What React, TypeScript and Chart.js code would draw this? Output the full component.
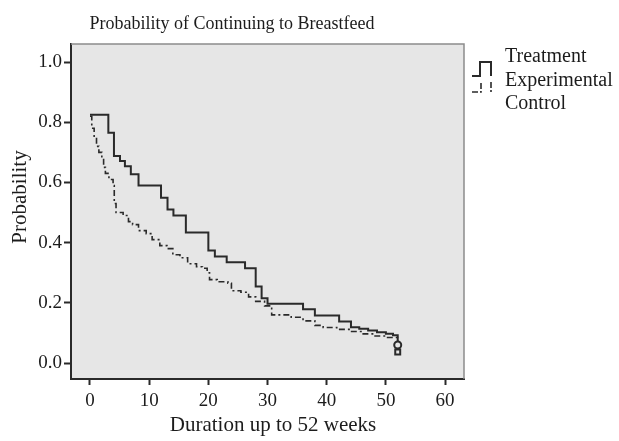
import React, { useEffect, useRef } from "react";
import { Chart, registerables } from "chart.js";

Chart.register(...registerables);

// ---- Data ----
const chartTitle = "Probability of Continuing to Breastfeed";
const xTitle = "Duration up to 52 weeks";
const yTitle = "Probability";
const legendTitle = "Treatment";
const seriesNames = ["Experimental", "Control"];

const xTicks = [0, 10, 20, 30, 40, 50, 60];
const yTicks = [0, 0.2, 0.4, 0.6, 0.8, 1.0];

// Kaplan–Meier steps: survival value after each event time
const expTimes = [0, 3.1, 4.05, 5.07, 5.9, 6.9, 8.2, 12.0, 13.1, 14.1, 16.2, 20.0, 21.1, 23.1, 26.2, 28.0, 29.0, 30.0, 36.0, 38.0, 42.1, 44.1, 45.5, 47.0, 48.5, 50.0, 51.2, 52.0];
const expSurv = [0.825, 0.765, 0.688, 0.671, 0.654, 0.627, 0.59, 0.549, 0.51, 0.49, 0.434, 0.374, 0.354, 0.335, 0.315, 0.254, 0.215, 0.197, 0.179, 0.158, 0.138, 0.119, 0.114, 0.108, 0.102, 0.097, 0.092, 0.06];

const ctrlTimes = [0, 0.3, 0.7, 1.1, 1.5, 2.0, 2.3, 2.6, 3.2, 3.9, 4.1, 4.4, 5.6, 6.5, 7.2, 8.2, 9.5, 10.5, 11.8, 13.0, 14.0, 15.2, 16.5, 18.0, 19.0, 19.8, 20.2, 21.5, 23.3, 23.9, 25.5, 26.8, 28.0, 29.5, 30.7, 34.0, 36.0, 38.0, 39.4, 41.7, 44.0, 46.0, 48.0, 50.0, 52.0];
const ctrlSurv = [0.82, 0.78, 0.75, 0.72, 0.70, 0.68, 0.65, 0.63, 0.61, 0.59, 0.53, 0.50, 0.49, 0.47, 0.46, 0.44, 0.43, 0.41, 0.39, 0.38, 0.36, 0.35, 0.33, 0.32, 0.315, 0.30, 0.277, 0.27, 0.265, 0.24, 0.235, 0.22, 0.205, 0.19, 0.16, 0.152, 0.14, 0.125, 0.118, 0.112, 0.105, 0.097, 0.09, 0.085, 0.037];

const FONT = "'Liberation Serif', 'DejaVu Serif', serif";
const INK = "#1c1c1c";
const LINE = "#2a2a2a";

const decorPlugin = {
  id: "decor",
  beforeDraw(chart: any) {
    const { ctx, chartArea: a } = chart;
    ctx.save();
    ctx.fillStyle = "#e6e6e6";
    ctx.fillRect(a.left, a.top, a.right - a.left, a.bottom - a.top);
    ctx.restore();
  },
  afterDraw(chart: any) {
    const { ctx, chartArea: a } = chart;
    ctx.save();
    // top & right frame
    ctx.strokeStyle = "#8c8c8c";
    ctx.lineWidth = 1.5;
    ctx.beginPath();
    ctx.moveTo(a.left, a.top);
    ctx.lineTo(a.right, a.top);
    ctx.lineTo(a.right, a.bottom);
    ctx.stroke();

    // title
    ctx.fillStyle = INK;
    ctx.font = `18px ${FONT}`;
    ctx.textAlign = "center";
    ctx.textBaseline = "alphabetic";
    ctx.fillText(chartTitle, 232, 29);

    // axis titles
    ctx.font = `21px ${FONT}`;
    ctx.fillText(xTitle, 273, 431);
    ctx.save();
    ctx.translate(26, 197);
    ctx.rotate(-Math.PI / 2);
    ctx.fillText(yTitle, 0, 0);
    ctx.restore();

    // legend
    ctx.textAlign = "left";
    ctx.font = `20px ${FONT}`;
    ctx.fillText(legendTitle, 505, 62);
    ctx.fillText(seriesNames[0], 505, 86);
    ctx.fillText(seriesNames[1], 505, 109);

    ctx.strokeStyle = LINE;
    ctx.lineWidth = 2;
    ctx.setLineDash([]);
    ctx.beginPath();
    ctx.moveTo(472, 76);
    ctx.lineTo(480, 76);
    ctx.lineTo(480, 62);
    ctx.lineTo(491, 62);
    ctx.lineTo(491, 76);
    ctx.stroke();

    ctx.lineWidth = 1.6;
    ctx.setLineDash([6, 2, 2, 2]);
    ctx.beginPath();
    ctx.moveTo(472, 92);
    ctx.lineTo(481, 92);
    ctx.lineTo(481, 82);
    ctx.stroke();
    ctx.beginPath();
    ctx.moveTo(491, 82);
    ctx.lineTo(491, 93);
    ctx.stroke();
    ctx.restore();
  },
};

export default function App() {
  const ref = useRef<HTMLCanvasElement>(null);

  useEffect(() => {
    if (!ref.current) return;
    const expData = expTimes.map((t, i) => ({ x: t, y: expSurv[i] }));
    const ctrlData = ctrlTimes.map((t, i) => ({ x: t, y: ctrlSurv[i] }));
    const lastExp = expData.length - 1;
    const lastCtrl = ctrlData.length - 1;

    const chart = new Chart(ref.current, {
      type: "line",
      data: {
        datasets: [
          {
            label: seriesNames[0],
            data: expData,
            stepped: true,
            borderColor: LINE,
            borderWidth: 2,
            pointRadius: (c: any) => (c.dataIndex === lastExp ? 3.5 : 0),
            pointStyle: "circle",
            pointBorderColor: LINE,
            pointBackgroundColor: "#e6e6e6",
            pointBorderWidth: 2,
            fill: false,
          },
          {
            label: seriesNames[1],
            data: ctrlData,
            stepped: true,
            borderColor: LINE,
            borderWidth: 1.6,
            borderDash: [6, 3, 2, 3],
            pointRadius: (c: any) => (c.dataIndex === lastCtrl ? 3.5 : 0),
            pointStyle: "rect",
            pointBorderColor: LINE,
            pointBackgroundColor: "#e6e6e6",
            pointBorderWidth: 2,
            fill: false,
          },
        ],
      },
      options: {
        responsive: false,
        animation: false,
        layout: { padding: { top: 44, right: 155, left: 0, bottom: 0 } },
        plugins: {
          legend: { display: false },
          title: { display: false },
          tooltip: { enabled: false },
        },
        scales: {
          x: {
            type: "linear",
            min: -3.21,
            max: 63.2,
            afterBuildTicks: (s: any) => {
              s.ticks = xTicks.map((v) => ({ value: v }));
            },
            afterFit: (s: any) => {
              s.height = 62;
            },
            grid: { drawOnChartArea: false, drawTicks: true, tickLength: 6, tickColor: LINE, tickWidth: 2 },
            border: { display: true, color: LINE, width: 2 },
            ticks: {
              color: INK,
              font: { family: FONT, size: 19 },
              padding: 5,
              maxRotation: 0,
              callback: (v: any) => String(v),
            },
            title: { display: false },
          },
          y: {
            type: "linear",
            min: -0.053,
            max: 1.06,
            afterBuildTicks: (s: any) => {
              s.ticks = yTicks.map((v) => ({ value: v }));
            },
            afterFit: (s: any) => {
              s.width = 71;
            },
            grid: { drawOnChartArea: false, drawTicks: true, tickLength: 7, tickColor: LINE, tickWidth: 2 },
            border: { display: true, color: LINE, width: 2 },
            ticks: {
              color: INK,
              font: { family: FONT, size: 19 },
              padding: 2,
              callback: (v: any) => Number(v).toFixed(1),
            },
            title: { display: false },
          },
        },
      },
      plugins: [decorPlugin],
    } as any);
    return () => chart.destroy();
  }, []);

  return (
    <div style={{ position: "fixed", left: 0, top: 0, width: 619, height: 441, background: "#fff" }}>
      <canvas ref={ref} width={619} height={441} style={{ display: "block" }} />
    </div>
  );
}
